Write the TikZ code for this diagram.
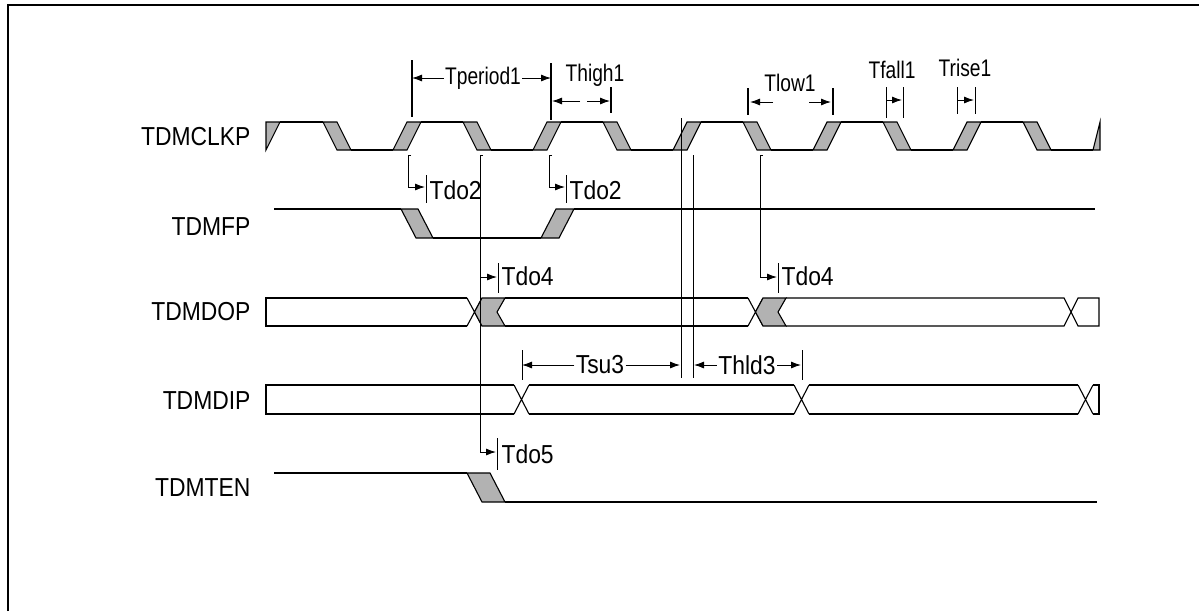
\documentclass[tikz,border=0pt]{standalone}
\usepackage{fontspec}
\newfontfamily\tdfont{Liberation Sans}[FakeStretch=0.88]
\newfontfamily\tdcond{Liberation Sans}[FakeStretch=0.8]
\usetikzlibrary{arrows.meta, positioning}

\begin{document}
\begin{tikzpicture}[x=1pt,y=-1pt,line width=1.1pt,>={Latex[length=10pt,width=7pt]}]
\tikzstyle{signame}=[inner sep=0pt, font=\tdfont\fontsize{26}{30}\selectfont]
\tikzstyle{anno}=[inner sep=1pt, font=\tdfont\fontsize{26}{30}\selectfont]
\tikzstyle{toplab}=[inner sep=1pt, font=\tdcond\fontsize{24}{28}\selectfont]
\tikzstyle{band}=[fill=gray!60, draw=black]
\tikzstyle{guide}=[line width=0.9pt]
\tikzstyle{marker}=[line width=1.8pt]
\tikzstyle{meas}=[->, line width=0.9pt]

\useasboundingbox (0,0) rectangle (1199,611);
\draw[line width=2.8pt] (8,611) -- (8,5) -- (1199,5);

% signal names
\coordinate (clk) at (251,137);
\coordinate (fp) at (251,227);
\coordinate (dop) at (251,312);
\coordinate (dip) at (251,401);
\coordinate (ten) at (251,488);
\node[signame, left = 0pt of clk] (lclk) {TDMCLKP};
\node[signame, left = 0pt of fp] (lfp) {TDMFP};
\node[signame, left = 0pt of dop] (ldop) {TDMDOP};
\node[signame, left = 0pt of dip] (ldip) {TDMDIP};
\node[signame, left = 0pt of ten] (lten) {TDMTEN};

% TDMCLKP
\filldraw[band] (266,150) -- (266,122) -- (280,122) -- cycle;
\draw (280,122) -- (323,122);
\filldraw[band] (323,122) -- (337,122) -- (351,150) -- (337,150) -- cycle;
\draw (351,150) -- (393,150);
\foreach \b in {393,533,...,953} {
  \filldraw[band] (\b,150) -- (\b+14,150) -- (\b+28,122) -- (\b+14,122) -- cycle;
  \draw (\b+28,122) -- (\b+70,122);
  \filldraw[band] (\b+70,122) -- (\b+84,122) -- (\b+98,150) -- (\b+84,150) -- cycle;
  \draw (\b+98,150) -- (\b+140,150);
}
\filldraw[band] (1093,150) -- (1100,122) -- (1100,150) -- cycle;

% TDMFP
\draw (274,209) -- (401,209);
\filldraw[band] (401,209) -- (418,209) -- (433,238) -- (416,238) -- cycle;
\draw (433,238) -- (541,238);
\filldraw[band] (541,238) -- (559,238) -- (574,209) -- (556,209) -- cycle;
\draw (574,209) -- (1095,209);

% TDMDOP
\draw (467,298) -- (266,298) -- (266,326) -- (467,326);
\foreach \x in {467,748} {
  \draw (\x,298) -- (\x+15,326) (\x,326) -- (\x+15,298);
  \filldraw[band] (\x+15,298) -- (\x+38,298) -- (\x+30,312) -- (\x+38,326) -- (\x+15,326) -- (\x+7.5,312) -- cycle;
}
\draw (505,298) -- (748,298) (505,326) -- (748,326);
\draw (786,298) -- (1064,298) -- (1078,326) -- (1099,326) -- (1099,298) -- (1078,298) -- (1064,326) -- (786,326);

% TDMDIP
\draw (514,385) -- (266,385) -- (266,414) -- (514,414);
\foreach \x in {514,794,1078}
  \draw (\x,385) -- (\x+15,414) (\x,414) -- (\x+15,385);
\draw (529,385) -- (794,385) (529,414) -- (794,414);
\draw (809,385) -- (1078,385) (809,414) -- (1078,414);
\draw (1093,385) -- (1099,385) -- (1099,414) -- (1093,414);

% TDMTEN
\draw (274,473) -- (467,473);
\filldraw[band] (467,473) -- (490,473) -- (505,502) -- (482,502) -- cycle;
\draw (505,502) -- (1097,502);

% Tperiod1, Thigh1
\draw[marker] (412,60) -- (412,117);
\draw[marker] (551,63) -- (551,120);
\draw[marker] (611,87) -- (611,113);
\node[toplab] (tper) at (483,78) {Tperiod1};
\coordinate (perA) at (412,78);
\coordinate (perB) at (551,78);
\draw[meas] (tper) -- (perA);
\draw[meas] (tper) -- (perB);
\node[toplab] (thi) at (595,75) {Thigh1};
\coordinate (hiA) at (552,101);
\coordinate (hiB) at (610,101);
\coordinate (hiC) at (580,101);
\coordinate (hiD) at (587,101);
\draw[meas] (hiC) -- (hiA);
\draw[meas] (hiD) -- (hiB);

% Tlow1
\draw[marker] (748,88) -- (748,115);
\draw[marker] (833,88) -- (833,115);
\node[toplab] (tlo) at (790,83) {Tlow1};
\coordinate (loA) at (750,102);
\coordinate (loB) at (831,102);
\coordinate (loC) at (773,102);
\coordinate (loD) at (809,102);
\draw[meas] (loC) -- (loA);
\draw[meas] (loD) -- (loB);

% Tfall1, Trise1
\draw[guide] (886,87) -- (886,118) (903,87) -- (903,118);
\draw[guide] (957,87) -- (957,114) (975,87) -- (975,114);
\node[toplab] (tfa) at (892,70) {Tfall1};
\node[toplab] (tri) at (965,68) {Trise1};
\coordinate (faA) at (886,100);
\coordinate (faB) at (902,100);
\coordinate (riA) at (957,100);
\coordinate (riB) at (974,100);
\draw[meas] (faA) -- (faB);
\draw[meas] (riA) -- (riB);

% Tdo2
\draw[meas] (411,155) -- (408,155) -- (408,187) -- (425,187);
\draw[guide] (426,175) -- (426,203);
\node[anno, anchor=west] (tdo2a) at (428,190) {Tdo2};
\draw[meas] (552,155) -- (549,155) -- (549,187) -- (565,187);
\draw[guide] (566,175) -- (566,203);
\node[anno, anchor=west] (tdo2b) at (568,190) {Tdo2};

% Tdo4, Tdo5
\draw[guide] (483,155) -- (480,155) -- (480,452);
\draw[meas] (480,277) -- (497,277);
\draw[guide] (498,263) -- (498,293);
\node[anno, anchor=west] (tdo4a) at (500,276) {Tdo4};
\draw[meas] (480,452) -- (496,452);
\draw[guide] (497,438) -- (497,470);
\node[anno, anchor=west] (tdo5) at (500,454) {Tdo5};
\draw[meas] (763,155) -- (760,155) -- (760,277) -- (777,277);
\draw[guide] (778,263) -- (778,293);
\node[anno, anchor=west] (tdo4b) at (780,276) {Tdo4};

% Tsu3, Thld3
\draw[guide] (681,118) -- (681,378);
\draw[guide] (693,155) -- (693,378);
\draw[guide] (522,350) -- (522,380);
\draw[guide] (802,350) -- (802,380);
\node[anno] (tsu) at (600,365) {Tsu3};
\node[anno] (thd) at (747,365) {Thld3};
\coordinate (suA) at (522,365);
\coordinate (suB) at (680,365);
\coordinate (hdA) at (694,365);
\coordinate (hdB) at (801,365);
\draw[meas] (tsu) -- (suA);
\draw[meas] (tsu) -- (suB);
\draw[meas] (thd) -- (hdA);
\draw[meas] (thd) -- (hdB);
\end{tikzpicture}
\end{document}
